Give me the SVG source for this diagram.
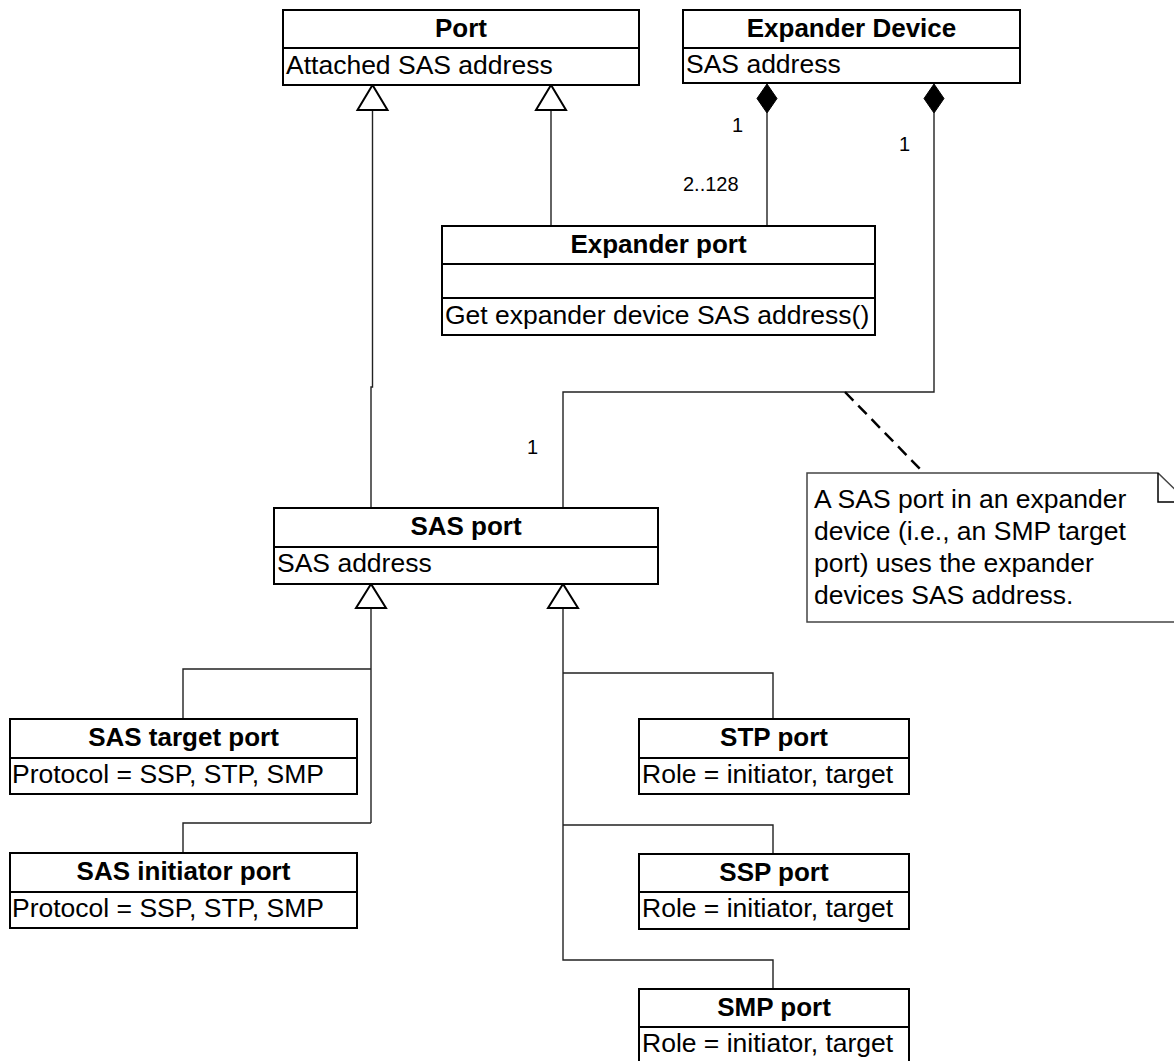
<svg xmlns="http://www.w3.org/2000/svg" width="1174" height="1061" viewBox="0 0 1174 1061">
<style>
.box{fill:#fff;stroke:#000;stroke-width:2}
.div{stroke:#000;stroke-width:2}
.t{font-family:"Liberation Sans",Arial,sans-serif;font-size:26.5px;fill:#000}
.b{font-weight:bold;text-anchor:middle;font-size:26px}
.ln{fill:none;stroke:#222;stroke-width:1.4}
.tri{fill:#fff;stroke:#000;stroke-width:2}
.dia{fill:#000;stroke:#000;stroke-width:1}
.lbl{font-family:"Liberation Sans",Arial,sans-serif;font-size:20px;fill:#000}
</style>
<rect width="1174" height="1061" fill="#fff"/>
<g id="connectors">
  <polyline class="ln" points="372.5,110 372.5,387 371,387 371,508"/>
  <line class="ln" x1="551" y1="110" x2="551" y2="226"/>
  <line class="ln" x1="767" y1="113" x2="767" y2="226"/>
  <polyline class="ln" points="934,113 934,392 563,392 563,508"/>
  <polyline class="ln" points="371,608 371,823"/>
  <polyline class="ln" points="371,669 183,669 183,719"/>
  <polyline class="ln" points="371,823 183,823 183,853"/>
  <polyline class="ln" points="563,608 563,960 773,960 773,989"/>
  <polyline class="ln" points="563,673 773,673 773,719"/>
  <polyline class="ln" points="563,825 773,825 773,854"/>
  <line x1="845" y1="392" x2="923" y2="472" stroke="#000" stroke-width="2.5" stroke-dasharray="12,7"/>
  <polygon class="tri" points="372.5,85 357.5,110 387.5,110"/>
  <polygon class="tri" points="551,85 536,110 566,110"/>
  <polygon class="tri" points="371,584 356,608 386,608"/>
  <polygon class="tri" points="563,584 548,608 578,608"/>
  <polygon class="dia" points="767,84 777,98.5 767,113 757,98.5"/>
  <polygon class="dia" points="934,84 944,98.5 934,113 924,98.5"/>
  <text class="lbl" x="732" y="132">1</text>
  <text class="lbl" x="899" y="151">1</text>
  <text class="lbl" x="683" y="191">2..128</text>
  <text class="lbl" x="527" y="454">1</text>
</g>
<g id="port">
  <rect class="box" x="283" y="10" width="356" height="75"/>
  <line class="div" x1="283" y1="48" x2="639" y2="48"/>
  <text class="t b" x="461" y="37">Port</text>
  <text class="t" x="286" y="74">Attached SAS address</text>
</g>
<g id="expander-device">
  <rect class="box" x="683" y="10" width="337" height="73"/>
  <line class="div" x1="683" y1="48" x2="1020" y2="48"/>
  <text class="t b" x="851.5" y="37">Expander Device</text>
  <text class="t" x="686" y="73">SAS address</text>
</g>
<g id="expander-port">
  <rect class="box" x="442" y="226" width="433" height="109"/>
  <line class="div" x1="442" y1="264" x2="875" y2="264"/>
  <line class="div" x1="442" y1="298" x2="875" y2="298"/>
  <text class="t b" x="658.5" y="253">Expander port</text>
  <text class="t" x="445" y="324">Get expander device SAS address()</text>
</g>
<g id="note">
  <polygon points="807,473 1158,473 1188,502 1188,622 807,622" fill="#fff" stroke="#444" stroke-width="1.5"/>
  <polyline points="1158,473 1158,502 1188,502" fill="none" stroke="#000" stroke-width="1.5"/>
  <text class="t" x="814" y="508">A SAS port in an expander</text>
  <text class="t" x="814" y="540">device (i.e., an SMP target</text>
  <text class="t" x="814" y="572">port) uses the expander</text>
  <text class="t" x="814" y="604">devices SAS address.</text>
</g>
<g id="sas-port">
  <rect class="box" x="274" y="508" width="384" height="76"/>
  <line class="div" x1="274" y1="547" x2="658" y2="547"/>
  <text class="t b" x="466" y="535">SAS port</text>
  <text class="t" x="277" y="572">SAS address</text>
</g>
<g id="sas-target-port">
  <rect class="box" x="10" y="719" width="347" height="75"/>
  <line class="div" x1="10" y1="758" x2="357" y2="758"/>
  <text class="t b" x="183.5" y="746">SAS target port</text>
  <text class="t" x="12" y="783">Protocol = SSP, STP, SMP</text>
</g>
<g id="sas-initiator-port">
  <rect class="box" x="10" y="853" width="347" height="75"/>
  <line class="div" x1="10" y1="892" x2="357" y2="892"/>
  <text class="t b" x="183.5" y="880">SAS initiator port</text>
  <text class="t" x="12" y="917">Protocol = SSP, STP, SMP</text>
</g>
<g id="stp-port">
  <rect class="box" x="639" y="719" width="270" height="75"/>
  <line class="div" x1="639" y1="758" x2="909" y2="758"/>
  <text class="t b" x="774" y="746">STP port</text>
  <text class="t" x="642" y="783">Role = initiator, target</text>
</g>
<g id="ssp-port">
  <rect class="box" x="639" y="854" width="270" height="75"/>
  <line class="div" x1="639" y1="892" x2="909" y2="892"/>
  <text class="t b" x="774" y="881">SSP port</text>
  <text class="t" x="642" y="917">Role = initiator, target</text>
</g>
<g id="smp-port">
  <rect class="box" x="639" y="989" width="270" height="76"/>
  <line class="div" x1="639" y1="1027" x2="909" y2="1027"/>
  <text class="t b" x="774" y="1016">SMP port</text>
  <text class="t" x="642" y="1052">Role = initiator, target</text>
</g>
</svg>
